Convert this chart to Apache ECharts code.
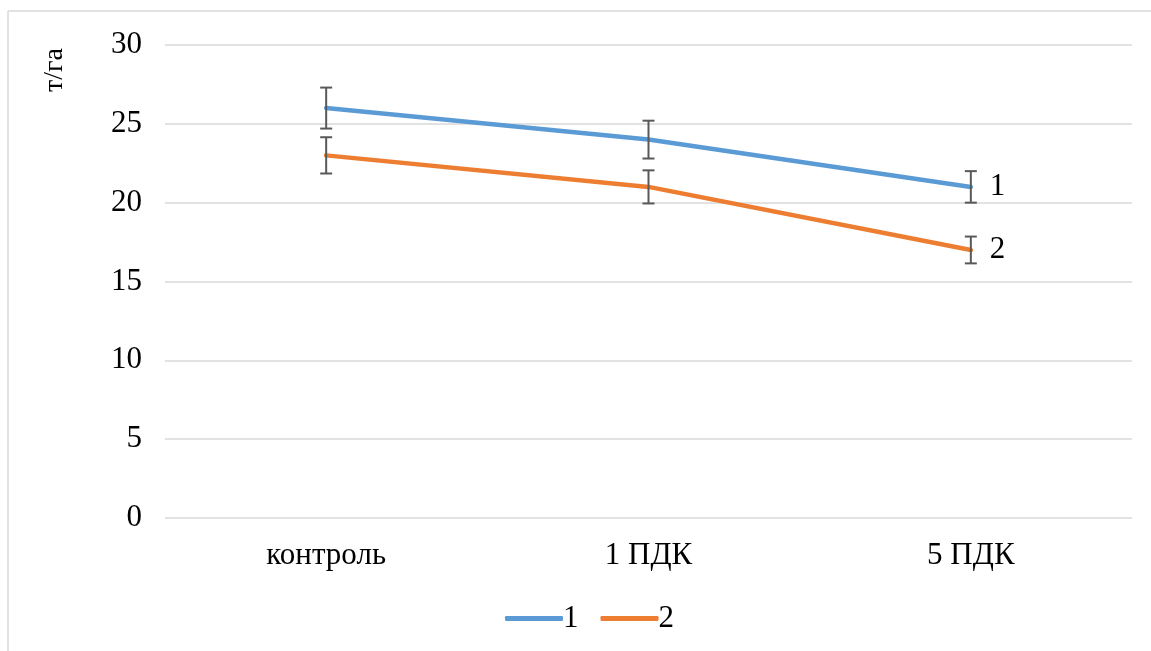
<!DOCTYPE html>
<html><head><meta charset="utf-8">
<script src="https://cdn.jsdelivr.net/npm/echarts@6/dist/echarts.min.js"></script>
<style>html,body{margin:0;padding:0;background:#fff}#c{width:1151px;height:651px}</style>
</head><body><div id="c"></div>
<script>
const categories = ['контроль', '1 ПДК', '5 ПДК'];
const series1 = [26, 24, 21];
const series2 = [23, 21, 17];
const err1 = [1.3, 1.2, 1.0];
const err2 = [1.15, 1.05, 0.85];
const yTicks = [0, 5, 10, 15, 20, 25, 30];
const seriesNames = ['1', '2'];
const yAxisTitle = 'т/га';

const font = 'Liberation Serif';
const fs = 31;
const chart = echarts.init(document.getElementById('c'));

function errSeries(vals, errs) {
  return {
    type: 'custom',
    silent: true,
    z: 5,
    data: vals.map((v, i) => [i, v - errs[i], v + errs[i]]),
    renderItem: function (params, api) {
      const lo = api.coord([api.value(0), api.value(1)]);
      const hi = api.coord([api.value(0), api.value(2)]);
      const w = 6;
      const st = { stroke: '#595959', lineWidth: 2 };
      return { type: 'group', children: [
        { type: 'line', shape: { x1: lo[0], y1: lo[1], x2: hi[0], y2: hi[1] }, style: st },
        { type: 'line', shape: { x1: lo[0] - w, y1: lo[1], x2: lo[0] + w, y2: lo[1] }, style: st },
        { type: 'line', shape: { x1: hi[0] - w, y1: hi[1], x2: hi[0] + w, y2: hi[1] }, style: st }
      ]};
    }
  };
}

function lineSeries(name, vals, color) {
  return {
    name: name, type: 'line', data: vals, symbol: 'none', z: 3,
    lineStyle: { color: color, width: 4.5, cap: 'round', join: 'round' },
    itemStyle: { color: color },
    endLabel: { show: true, formatter: name, color: '#000', fontFamily: font, fontSize: fs, distance: 19 }
  };
}

chart.setOption({
  animation: false,
  graphic: [
    { type: 'line', shape: { x1: 8, y1: 11, x2: 1151, y2: 11 }, style: { stroke: '#d9d9d9', lineWidth: 1.5 } },
    { type: 'line', shape: { x1: 8, y1: 11, x2: 8, y2: 651 }, style: { stroke: '#d9d9d9', lineWidth: 1.5 } },
    { type: 'text', x: 55, y: 70, rotation: Math.PI / 2,
      style: { text: yAxisTitle, fontFamily: font, fontSize: 28, fill: '#000', align: 'center', verticalAlign: 'middle' } }
  ],
  grid: { left: 165, right: 19, top: 45, bottom: 133, containLabel: false },
  legend: {
    bottom: 12, left: 500, itemWidth: 58, itemHeight: 5, itemGap: 22,
    icon: 'roundRect',
    data: seriesNames,
    textStyle: { fontFamily: font, fontSize: fs, color: '#000', padding: [0, 0, 0, -5] }
  },
  xAxis: {
    type: 'category', data: categories, boundaryGap: true,
    axisLine: { show: false }, axisTick: { show: false },
    axisLabel: { fontFamily: font, fontSize: fs, color: '#000', margin: 22 }
  },
  yAxis: {
    type: 'value', min: yTicks[0], max: yTicks[yTicks.length - 1], interval: 5,
    axisLine: { show: false }, axisTick: { show: false },
    axisLabel: { fontFamily: font, fontSize: fs, color: '#000', margin: 23 },
    splitLine: { lineStyle: { color: '#d9d9d9', width: 1.5 } }
  },
  series: [
    lineSeries(seriesNames[0], series1, '#5B9BD5'),
    lineSeries(seriesNames[1], series2, '#ED7D31'),
    errSeries(series1, err1),
    errSeries(series2, err2)
  ]
});
</script></body></html>
